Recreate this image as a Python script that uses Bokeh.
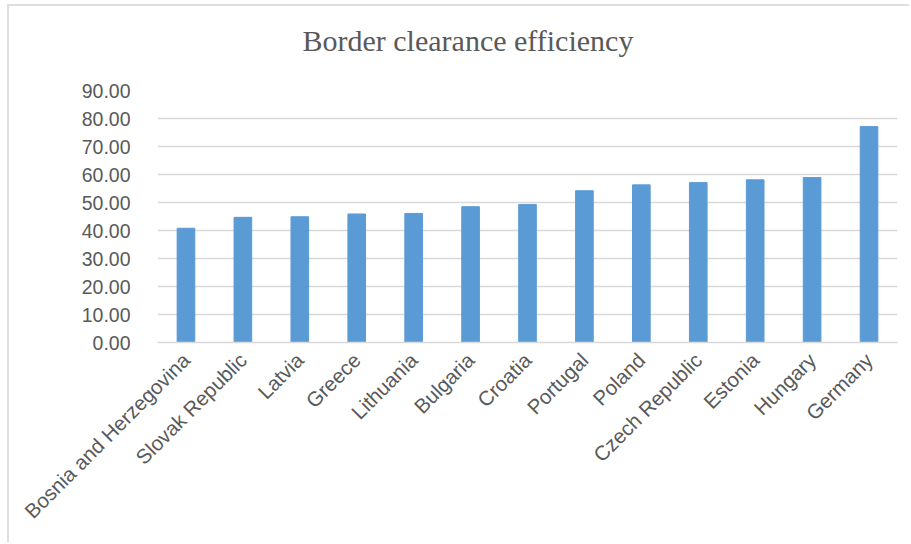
from bokeh.plotting import figure
from bokeh.models import (FactorRange, FixedTicker, NumeralTickFormatter,
                          Range1d, Title)
from bokeh.embed import file_html
from bokeh.resources import INLINE
import math

# Border clearance efficiency scores by country
countries = ["Bosnia and Herzegovina", "Slovak Republic", "Latvia", "Greece",
             "Lithuania", "Bulgaria", "Croatia", "Portugal", "Poland",
             "Czech Republic", "Estonia", "Hungary", "Germany"]
scores = [40.8, 44.7, 44.9, 45.9, 46.1, 48.5, 49.3, 54.2, 56.3, 57.1, 58.1, 58.9, 77.1]
y_ticks = [0, 10, 20, 30, 40, 50, 60, 70, 80, 90]

TEXT = "#595959"
GRID = "#d9d9d9"
BAR = "#5b9bd5"

# chart sits slightly in from the page corner, framed by a thin grey border
p = figure(width=902, height=538, x_range=FactorRange(*countries, range_padding=0),
           y_range=Range1d(0, 90), output_backend="svg", toolbar_location=None,
           min_border_left=148, min_border_right=14, min_border_top=84,
           min_border_bottom=202, margin=(4, 0, 0, 7),
           styles={"border-left": "2px solid #dedede",
                   "border-top": "2px solid #dedede"},
           title="Border clearance efficiency")
p.outline_line_color = None
p.background_fill_color = "white"
p.border_fill_color = "white"

p.title.align = "left"
p.title.offset = 145
p.title.standoff = 10
p.title.text_font = "Liberation Serif"
p.title.text_font_size = "30px"
p.title.text_font_style = "normal"
p.title.text_color = TEXT

# blank strip between the title and the plot area, lifting the title
p.add_layout(Title(text=" ", text_font_size="1px", standoff=26), "above")

p.vbar(x=countries, top=scores, width=0.31, fill_color=BAR, line_color=BAR)

# y axis
p.yaxis.ticker = FixedTicker(ticks=y_ticks)
p.yaxis.formatter = NumeralTickFormatter(format="0.00")
p.yaxis.axis_line_color = None
p.yaxis.major_tick_line_color = None
p.yaxis.minor_tick_line_color = None
p.yaxis.major_label_standoff = 21
p.yaxis.major_label_text_font = "Liberation Sans"
p.yaxis.major_label_text_font_size = "19.5px"
p.yaxis.major_label_text_color = TEXT

# x axis
p.xaxis.axis_line_color = GRID
p.xaxis.axis_line_width = 1.5
p.xaxis.major_tick_line_color = None
p.xaxis.minor_tick_line_color = None
p.xaxis.major_label_orientation = math.pi / 4
p.xaxis.major_label_standoff = 8
p.xaxis.major_label_text_font = "Liberation Sans"
p.xaxis.major_label_text_font_size = "20.5px"
p.xaxis.major_label_text_color = TEXT

p.xgrid.grid_line_color = None
p.ygrid.grid_line_color = GRID
p.ygrid.grid_line_width = 1.5

open("out.html", "w").write(file_html(p, INLINE))
